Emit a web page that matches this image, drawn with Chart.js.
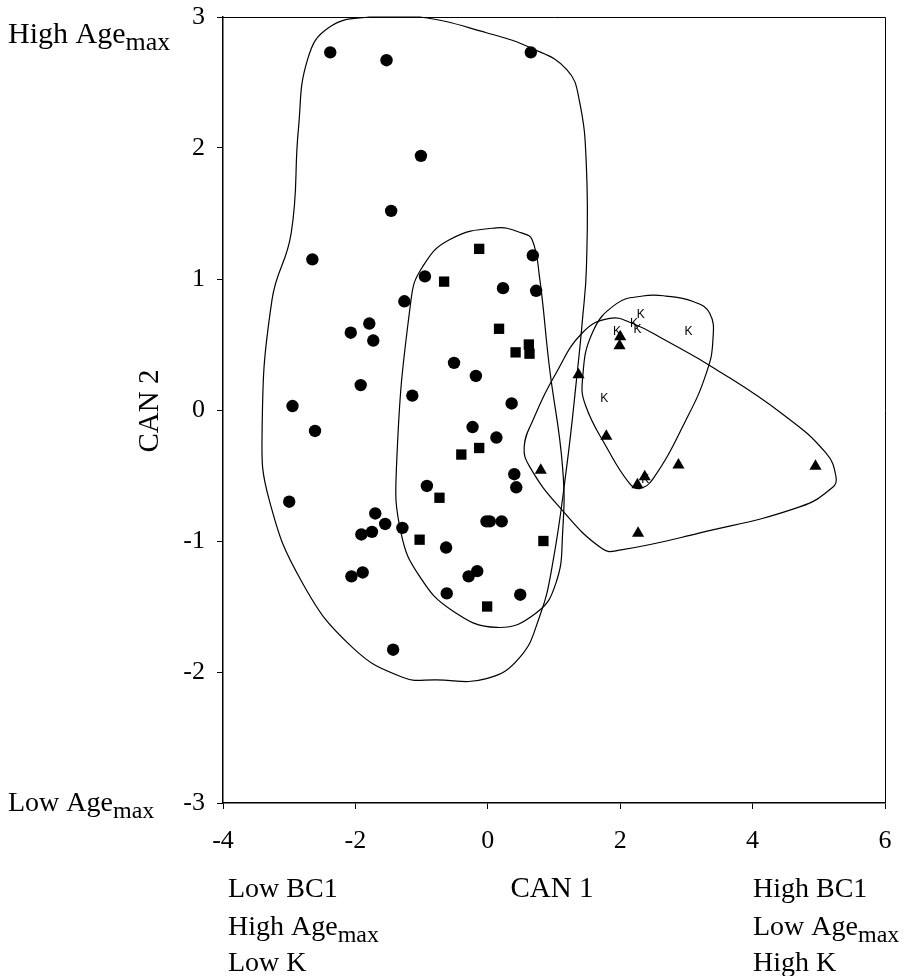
<!DOCTYPE html>
<html>
<head>
<meta charset="utf-8">
<script src="https://cdn.jsdelivr.net/npm/chart.js@4.4.1/dist/chart.umd.min.js"></script>
<style>
  html, body { margin: 0; padding: 0; background: #fff; }
  canvas { display: block; }
</style>
</head>
<body>
<canvas id="canChart" width="907" height="976"></canvas>
<script>
// group 1 (circles)
var circlePts = [
  [-2.38, 2.73], [-1.53, 2.67], [0.65, 2.73], [-1.01, 1.94], [-1.46, 1.52],
  [-2.65, 1.15], [-0.95, 1.02], [0.68, 1.18], [0.23, 0.93], [0.73, 0.91],
  [-1.26, 0.83], [-1.79, 0.66], [-2.07, 0.59], [-1.73, 0.53], [-0.51, 0.36],
  [-0.18, 0.26], [-1.92, 0.19], [-1.14, 0.11], [0.36, 0.05], [-2.95, 0.03],
  [-2.61, -0.16], [-0.23, -0.13], [0.13, -0.21], [0.40, -0.49], [0.43, -0.59],
  [-0.92, -0.58], [-3.0, -0.70], [-1.70, -0.79], [-1.55, -0.87], [-1.91, -0.95],
  [-1.75, -0.93], [-1.29, -0.90], [-0.02, -0.85], [0.03, -0.85], [0.21, -0.85],
  [-0.63, -1.05], [-2.06, -1.27], [-1.89, -1.24], [-0.29, -1.27], [-0.16, -1.23],
  [-0.62, -1.40], [0.49, -1.41], [-1.43, -1.83]
];
// group 2 (squares)
var squarePts = [
  [-0.13, 1.23], [-0.66, 0.98], [0.17, 0.62], [0.62, 0.50], [0.42, 0.44],
  [0.63, 0.43], [-0.40, -0.34], [-0.13, -0.29], [-0.73, -0.67], [-1.03, -0.99],
  [0.84, -1.00], [-0.01, -1.50]
];
// group 3 (triangles)
var trianglePts = [
  [1.37, 0.27], [2.0, 0.56], [1.99, 0.49], [1.79, -0.20], [0.80, -0.46],
  [2.88, -0.42], [4.95, -0.43], [2.26, -0.57], [2.37, -0.51], [2.27, -0.94]
];
// group 4 (K)
var kPts = [
  [2.31, 0.73], [2.21, 0.66], [2.26, 0.61], [1.95, 0.60], [3.03, 0.60],
  [1.76, 0.09], [2.38, -0.53]
];

// outlines drawn round each group
var hullCircles = [
  [-1.79, 3.0], [-1.03, 3.0], [-0.02, 2.88], [0.67, 2.76], [1.19, 2.60],
  [1.38, 2.37], [1.49, 1.85], [1.49, 1.09], [1.43, 0.69], [1.35, 0.28],
  [1.19, -0.44], [0.97, -1.20], [0.78, -1.58], [0.48, -1.89], [-0.02, -2.05],
  [-0.78, -2.06], [-1.29, -2.04], [-2.05, -1.81], [-2.80, -1.32], [-3.30, -0.69],
  [-3.41, -0.18], [-3.26, 0.84], [-2.97, 1.35], [-2.86, 2.15], [-2.72, 2.68],
  [-2.40, 2.92]
];
var hullSquares = [
  [0.13, 1.39], [0.52, 1.35], [0.67, 1.30], [0.78, 1.02], [0.93, 0.33],
  [1.13, -0.44], [1.13, -0.94], [1.03, -1.32], [0.73, -1.55], [0.14, -1.66],
  [-0.54, -1.53], [-1.03, -1.27], [-1.31, -0.94], [-1.38, -0.44], [-1.16, 0.84],
  [-0.99, 1.09], [-0.58, 1.30]
];
var hullTriangles = [
  [1.84, 0.70], [2.19, 0.66], [2.69, 0.53], [3.45, 0.31], [4.45, -0.03],
  [5.11, -0.33], [5.26, -0.51], [5.21, -0.59], [4.71, -0.74], [3.19, -0.94],
  [1.99, -1.07], [1.73, -1.06], [1.08, -0.74], [0.63, -0.43], [0.55, -0.28],
  [0.68, -0.08], [1.03, 0.28], [1.43, 0.59]
];
var hullK = [
  [2.34, 0.87], [2.69, 0.87], [3.09, 0.83], [3.35, 0.74], [3.40, 0.53],
  [3.30, 0.28], [2.99, -0.08], [2.49, -0.53], [2.29, -0.60], [2.14, -0.56],
  [1.79, -0.28], [1.48, 0.03], [1.43, 0.23], [1.58, 0.59], [1.94, 0.81]
];

var xTicks = [-4, -2, 0, 2, 4, 6];
var yTicks = [-3, -2, -1, 0, 1, 2, 3];

function toXY(list) {
  return list.map(function (p) { return { x: p[0], y: p[1] }; });
}

// closed smooth loop: wrap one point on each side, hide the two extra segments
function loopData(list) {
  var n = list.length;
  return toXY([list[n - 1]].concat(list, [list[0], list[1]]));
}

function hullSet(list) {
  var last = list.length + 2;
  return {
    data: loopData(list),
    showLine: true,
    tension: 0.45,
    borderColor: '#000',
    borderWidth: 1.2,
    pointRadius: 0,
    pointHoverRadius: 0,
    fill: false,
    clip: false,
    segment: {
      borderColor: function (c) {
        return (c.p0DataIndex === 0 || c.p1DataIndex === last) ? 'rgba(0,0,0,0)' : '#000';
      }
    }
  };
}

var serif = 'Liberation Serif, "Times New Roman", serif';

function subText(ctx, x, y, main, sub, size, subSize) {
  ctx.font = size + 'px ' + serif;
  ctx.fillText(main, x, y);
  var w = ctx.measureText(main).width;
  ctx.font = subSize + 'px ' + serif;
  ctx.fillText(sub, x + w, y + 7);
}

var labelsPlugin = {
  id: 'labels',
  afterDatasetsDraw: function (chart) {
    var ctx = chart.ctx;
    var meta = chart.getDatasetMeta(3);
    ctx.save();
    ctx.fillStyle = '#000';
    ctx.font = '12px "Liberation Sans", Arial, sans-serif';
    ctx.textAlign = 'center';
    ctx.textBaseline = 'middle';
    meta.data.forEach(function (el) {
      ctx.fillText('K', el.x, el.y);
    });
    ctx.restore();
  },
  afterDraw: function (chart) {
    var ctx = chart.ctx;
    var a = chart.chartArea;
    ctx.save();
    ctx.strokeStyle = '#000';
    ctx.lineWidth = 1;
    ctx.beginPath();
    ctx.moveTo(a.left, a.top + 0.5);
    ctx.lineTo(a.right + 0.5, a.top + 0.5);
    ctx.lineTo(a.right + 0.5, a.bottom);
    ctx.stroke();

    ctx.fillStyle = '#000';
    ctx.textAlign = 'left';
    ctx.textBaseline = 'alphabetic';
    var fs = 28;
    subText(ctx, 8, 43, 'High Age', 'max', 30, 26);
    subText(ctx, 8, 811, 'Low Age', 'max', fs, 24);

    ctx.font = fs + 'px ' + serif;
    ctx.fillText('Low BC1', 228, 897);
    subText(ctx, 228, 935, 'High Age', 'max', fs, 24);
    ctx.font = fs + 'px ' + serif;
    ctx.fillText('Low K', 228, 971);

    ctx.fillText('High BC1', 753, 897);
    subText(ctx, 753, 935, 'Low Age', 'max', fs, 24);
    ctx.font = fs + 'px ' + serif;
    ctx.fillText('High K', 753, 971);

    ctx.font = '29px ' + serif;
    ctx.textAlign = 'center';
    ctx.fillText('CAN 1', 552, 897);

    ctx.translate(158, 411);
    ctx.rotate(-Math.PI / 2);
    ctx.fillText('CAN 2', 0, 0);
    ctx.restore();
  }
};

function noPad(s) {
  s.paddingTop = 0;
  s.paddingBottom = 0;
  s.paddingLeft = 0;
  s.paddingRight = 0;
}

var ctx = document.getElementById('canChart');

var canChart = new Chart(ctx, {
  type: 'scatter',
  data: {
    datasets: [
      {
        data: toXY(circlePts),
        pointStyle: 'circle',
        pointRadius: 6.2,
        backgroundColor: '#000',
        borderColor: '#000',
        borderWidth: 0
      },
      {
        data: toXY(squarePts),
        pointStyle: 'rect',
        pointRadius: 7.3,
        backgroundColor: '#000',
        borderColor: '#000',
        borderWidth: 0
      },
      {
        data: toXY(trianglePts),
        pointStyle: 'triangle',
        pointRadius: 7,
        backgroundColor: '#000',
        borderColor: '#000',
        borderWidth: 0
      },
      {
        data: toXY(kPts),
        pointRadius: 0,
        pointHoverRadius: 0
      },
      hullSet(hullCircles),
      hullSet(hullSquares),
      hullSet(hullTriangles),
      hullSet(hullK)
    ]
  },
  options: {
    responsive: false,
    animation: false,
    events: [],
    layout: {
      padding: { top: 17, right: 22, left: 0, bottom: 0 }
    },
    scales: {
      x: {
        type: 'linear',
        min: -4,
        max: 6,
        afterFit: function (s) { s.height = 173; noPad(s); },
        afterBuildTicks: function (s) {
          s.ticks = xTicks.map(function (v) { return { value: v }; });
        },
        ticks: {
          color: '#000',
          padding: 17,
          maxRotation: 0,
          font: { family: serif, size: 26 }
        },
        grid: {
          drawOnChartArea: false,
          drawTicks: true,
          tickLength: 6,
          color: '#000',
          lineWidth: 1
        },
        border: { display: true, color: '#000', width: 1.5 }
      },
      y: {
        type: 'linear',
        min: -3,
        max: 3,
        afterFit: function (s) { s.width = 223; noPad(s); },
        afterBuildTicks: function (s) {
          s.ticks = yTicks.map(function (v) { return { value: v }; });
        },
        ticks: {
          color: '#000',
          padding: 12,
          font: { family: serif, size: 26 }
        },
        grid: {
          drawOnChartArea: false,
          drawTicks: true,
          tickLength: 6,
          color: '#000',
          lineWidth: 1
        },
        border: { display: true, color: '#000', width: 1.5 }
      }
    },
    plugins: {
      legend: { display: false },
      tooltip: { enabled: false }
    }
  },
  plugins: [labelsPlugin]
});
</script>
</body>
</html>
